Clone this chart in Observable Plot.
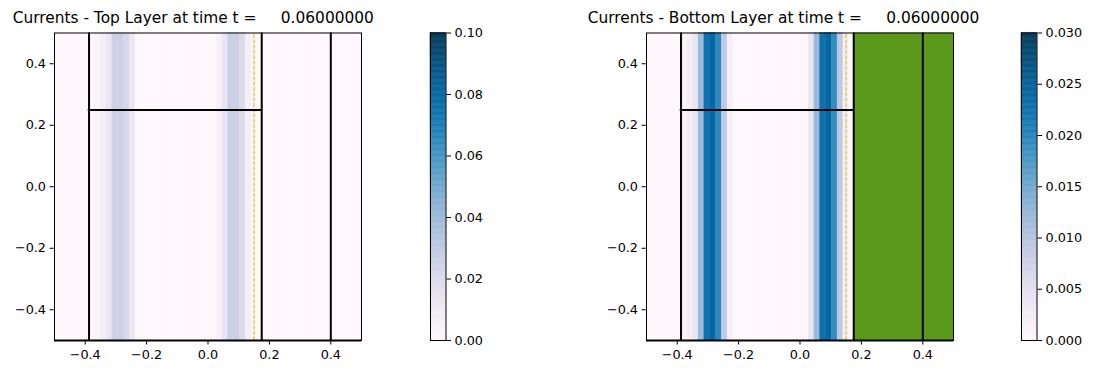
<!DOCTYPE html>
<html><head><meta charset="utf-8">
<script src="https://cdn.jsdelivr.net/npm/d3@7"></script>
<script src="https://cdn.jsdelivr.net/npm/@observablehq/plot@0.6"></script>
<style>
html,body{margin:0;padding:0;background:#fff;}
#root{position:relative;width:1095px;height:374px;overflow:hidden;font-family:"DejaVu Sans";background:#fff;}
#root svg text{font-size:12.8px !important;font-family:"DejaVu Sans" !important;fill:#000;}
.title{position:absolute;white-space:pre;font-size:15.4px;line-height:15.4px;color:#000;font-family:"DejaVu Sans";}
.piece{position:absolute;top:0;}
</style></head><body><div id="root"></div>
<script>
// ---- data ----
const nCols = 53;
const xExtent = [-0.5, 0.5];
const yExtent = [-0.5, 0.5];
const topValues = [
  0, 0, 0, 0, 0, 0,
  0.001, 0.003, 0.007, 0.013, 0.025, 0.026, 0.021, 0.012, 0.001,
  0, 0, 0, 0, 0, 0, 0, 0, 0, 0, 0, 0, 0,
  0.005, 0.013, 0.026, 0.026, 0.020, 0.007, 0.002,
  0, 0, 0, 0, 0, 0, 0, 0, 0, 0, 0, 0, 0, 0, 0, 0, 0, 0
];
const bottomValues = [
  0, 0, 0, 0, 0, 0,
  0.001, 0.002, 0.004, 0.012, 0.0225, 0.024, 0.0195, 0.009, 0.002,
  0, 0, 0, 0, 0, 0, 0, 0, 0, 0, 0, 0, 0,
  0.004, 0.012, 0.0225, 0.024, 0.019, 0.009, 0.002,
  0, 0, 0, 0, 0, 0, 0, 0, 0, 0, 0, 0, 0, 0, 0, 0, 0, 0
];
const axisTicks = [-0.4, -0.2, 0, 0.2, 0.4];
const topMax = 0.1;
const bottomMax = 0.03;
const topCbarTicks = [0, 0.02, 0.04, 0.06, 0.08, 0.10];
const bottomCbarTicks = [0, 0.005, 0.010, 0.015, 0.020, 0.025, 0.030];
const boundaryX = [-0.3875, 0.175, 0.4];
const boundarySegments = [
  {x1: -0.39, x2: 0.175, y: 0.25},
  {x1: -0.5, x2: 0.5, y: -0.5}
];
const interfaceX = [0.15];
const greenRegion = [{x1: 0.175, x2: 0.5}];
const titles = [
  "Currents - Top Layer at time t =     0.06000000",
  "Currents - Bottom Layer at time t =     0.06000000"
];

// ---- drawing ----
const root = document.getElementById("root");
const baseStyle = {fontFamily: "DejaVu Sans", fontSize: "12.8px", color: "black", background: "transparent", overflow: "visible"};
const fmt1 = d3.format(".1f");

function panel(values, vmax, withGreen, left) {
  const cells = values.map((v, i) => ({
    x1: xExtent[0] + i * (xExtent[1] - xExtent[0]) / nCols,
    x2: xExtent[0] + (i + 1) * (xExtent[1] - xExtent[0]) / nCols,
    v
  }));
  const marks = [
    Plot.rect(cells, {x1: "x1", x2: "x2", y1: yExtent[0], y2: yExtent[1], fill: "v", stroke: "v", strokeWidth: 0.5})
  ];
  if (withGreen) {
    marks.push(Plot.rect(greenRegion, {x1: "x1", x2: "x2", y1: yExtent[0], y2: yExtent[1], fill: "#5a991b"}));
  }
  marks.push(
    Plot.ruleX(interfaceX, {x: d => d, y1: yExtent[0], y2: yExtent[1], stroke: "#bfbf00", strokeWidth: 1, strokeDasharray: "3.7,1.6"}),
    Plot.ruleX(boundaryX, {x: d => d, y1: yExtent[0], y2: yExtent[1], stroke: "black", strokeWidth: 2}),
    Plot.ruleY(boundarySegments, {y: "y", x1: "x1", x2: "x2", stroke: "black", strokeWidth: 2}),
    Plot.frame({stroke: "black", strokeWidth: 1})
  );
  const p = Plot.plot({
    width: 400, height: 374,
    marginLeft: 54, marginRight: 39, marginTop: 32.5, marginBottom: 34,
    x: {domain: xExtent, ticks: axisTicks, tickFormat: fmt1, tickSize: 4.5, tickPadding: 5, label: null},
    y: {domain: yExtent, ticks: axisTicks, tickFormat: fmt1, tickSize: 4.5, tickPadding: 4, label: null},
    color: {type: "linear", scheme: "PuBu", domain: [0, vmax]},
    style: baseStyle,
    marks
  });
  p.classList.add("piece");
  p.style.left = left + "px";
  root.appendChild(p);
}

function colorbar(vmax, ticks, fmt, left, width) {
  const n = 256;
  const stripes = d3.range(n).map(i => ({y1: vmax * i / n, y2: vmax * (i + 1) / n, v: vmax * (i + 0.5) / n}));
  const p = Plot.plot({
    width, height: 374,
    marginLeft: 10, marginRight: width - 10 - 15.5, marginTop: 32.5, marginBottom: 34,
    x: {domain: [0, 1], axis: null},
    y: {domain: [0, vmax], ticks, tickFormat: fmt, axis: "right", tickSize: 4.5, tickPadding: 4, label: null},
    color: {type: "linear", scheme: "PuBu", domain: [0, vmax]},
    style: baseStyle,
    marks: [
      Plot.rect(stripes, {x1: 0, x2: 1, y1: "y1", y2: "y2", fill: "v", stroke: "v", strokeWidth: 0.5}),
      Plot.frame({stroke: "black", strokeWidth: 1})
    ]
  });
  p.classList.add("piece");
  p.style.left = left + "px";
  root.appendChild(p);
}

panel(topValues, topMax, false, 0);
panel(bottomValues, bottomMax, true, 592);
colorbar(topMax, topCbarTicks, d3.format(".2f"), 420, 90);
colorbar(bottomMax, bottomCbarTicks, d3.format(".3f"), 1011, 84);

[[titles[0], 12.7], [titles[1], 587.7]].forEach(([t, x]) => {
  const d = document.createElement("div");
  d.className = "title";
  d.textContent = t;
  d.style.left = x + "px";
  d.style.top = "11px";
  root.appendChild(d);
});
</script></body></html>
